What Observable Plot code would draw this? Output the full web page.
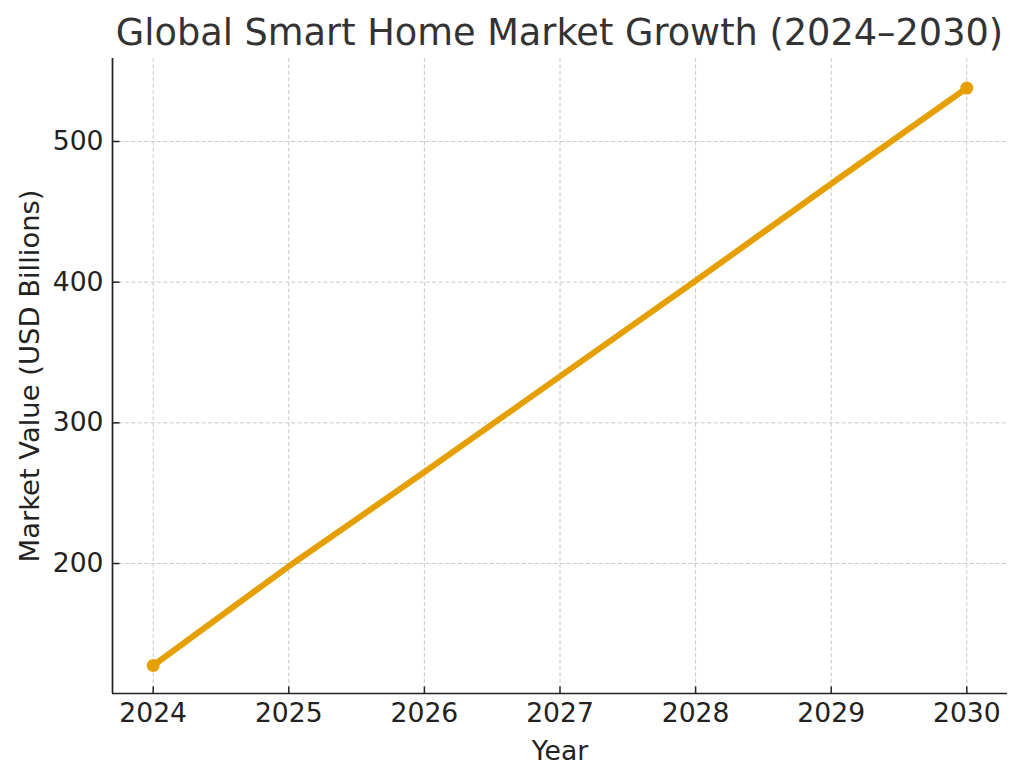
<!DOCTYPE html>
<html>
<head>
<meta charset="utf-8">
<script src="https://cdn.jsdelivr.net/npm/d3@7"></script>
<script src="https://cdn.jsdelivr.net/npm/@observablehq/plot@0.6"></script>
<style>
  html, body { margin: 0; padding: 0; background: #fff; }
  #wrap { width: 1024px; height: 780px; overflow: hidden; }
  #title {
    height: 58px; box-sizing: border-box; padding-top: 15px;
    font-family: "DejaVu Sans", sans-serif; font-size: 36.7px; line-height: 1;
    color: #333; white-space: nowrap;
    width: 1024px; padding-left: 112px; padding-right: 17px; text-align: center;
  }
</style>
</head>
<body>
<div id="wrap">
  <div id="title">Global Smart Home Market Growth (2024–2030)</div>
  <div id="chart"></div>
</div>
<script>
const years = [2024, 2025, 2026, 2027, 2028, 2029, 2030];
const marketValues = [127.5, 198, 265, 333, 401, 470, 538];
const xTicks = [2024, 2025, 2026, 2027, 2028, 2029, 2030];
const yTicks = [200, 300, 400, 500];
const xDomain = [2023.7, 2030.3];
const yDomain = [107.6, 559];
const xLabel = "Year";
const yLabel = "Market Value (USD Billions)";

const data = years.map((year, i) => ({year, value: marketValues[i]}));
const lineColor = "#E69F00";
const ink = "#222";
const gridStyle = {stroke: "#c8c8c8", strokeOpacity: 1, strokeWidth: 1, strokeDasharray: "4,2.4"};

// inward tick symbols
const tickRight = {draw(ctx) { ctx.moveTo(0, 0); ctx.lineTo(7, 0); }};
const tickUp = {draw(ctx) { ctx.moveTo(0, 0); ctx.lineTo(0, -7); }};

const chart = Plot.plot({
  width: 1024,
  height: 722,
  marginLeft: 112,
  marginRight: 17,
  marginTop: 0,
  marginBottom: 87,
  style: {fontFamily: "DejaVu Sans, sans-serif", fontSize: "26.6px", color: ink, background: "#fff"},
  x: {domain: xDomain},
  y: {domain: yDomain},
  marks: [
    Plot.gridX(xTicks, gridStyle),
    Plot.gridY(yTicks, gridStyle),
    Plot.axisX(xTicks, {
      tickFormat: d3.format("d"), tickSize: 0, tickPadding: 10, fill: ink,
      label: xLabel, labelAnchor: "center", labelArrow: "none", labelOffset: 66
    }),
    Plot.axisY(yTicks, {
      tickFormat: d3.format("d"), tickSize: 0, tickPadding: 9, fill: ink, label: null
    }),
    Plot.text([yLabel], {text: d => d, frameAnchor: "left", rotate: -90, dx: -82.5, fontSize: 27.4, fill: ink, textAnchor: "middle", lineAnchor: "middle"}),
    Plot.dot(xTicks, {x: d => d, frameAnchor: "bottom", symbol: tickUp, fill: "none", stroke: ink, strokeWidth: 1.5}),
    Plot.dot(yTicks, {y: d => d, frameAnchor: "left", symbol: tickRight, fill: "none", stroke: ink, strokeWidth: 1.5}),
    Plot.ruleX([xDomain[0]], {stroke: ink, strokeWidth: 1.7}),
    Plot.ruleY([yDomain[0]], {stroke: ink, strokeWidth: 1.7}),
    Plot.line(data, {x: "year", y: "value", stroke: lineColor, strokeWidth: 6, strokeLinecap: "butt"}),
    Plot.dot(data, {filter: (d, i) => i === 0 || i === data.length - 1, x: "year", y: "value", r: 6.5, fill: lineColor, stroke: "none"})
  ]
});
document.getElementById("chart").appendChild(chart);
</script>
</body>
</html>
